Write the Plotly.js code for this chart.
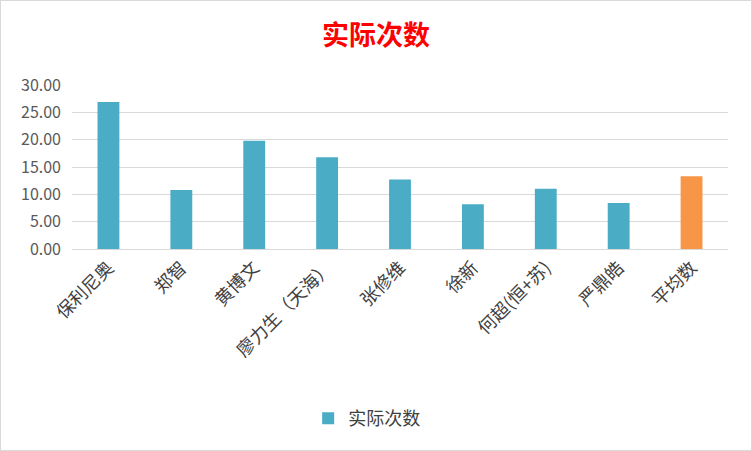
<!DOCTYPE html>
<html>
<head>
<meta charset="utf-8">
<script src="https://cdn.plot.ly/plotly-3.0.1.min.js"></script>
<style>
  html, body { margin: 0; padding: 0; background: #fff; }
  #chart { width: 750px; height: 449px; border: 1px solid #d9d9d9; }
</style>
</head>
<body>
<div id="chart"></div>
<script>
var names = ['保利尼奥', '郑智', '黄博文', '廖力生（天海）', '张修维', '徐新', '何超(恒+苏)', '严鼎皓', '平均数'];
var counts = [26.9, 10.8, 19.8, 16.8, 12.7, 8.2, 11.0, 8.4, 13.3];
var barColors = ['#4BACC6', '#4BACC6', '#4BACC6', '#4BACC6', '#4BACC6', '#4BACC6', '#4BACC6', '#4BACC6', '#F79646'];
var yTicks = [0, 5, 10, 15, 20, 25, 30];

var trace = {
  x: names,
  y: counts,
  type: 'bar',
  name: '实际次数',
  marker: {color: barColors},
  showlegend: true,
  hoverinfo: 'x+y'
};

var font = "'Noto Sans CJK SC', 'Microsoft YaHei', sans-serif";

var layout = {
  width: 750,
  height: 449,
  margin: {l: 71, r: 23, t: 84, b: 201},
  paper_bgcolor: '#fff',
  plot_bgcolor: '#fff',
  font: {family: font, color: '#404040'},
  title: {
    text: '<b>实际次数</b>',
    font: {family: font, size: 27, color: '#FF0000'},
    x: 0.5, xanchor: 'center',
    yref: 'container', y: 0.922, yanchor: 'middle'
  },
  bargap: 0.7,
  xaxis: {
    tickangle: -45,
    tickfont: {size: 18, color: '#404040'},
    showgrid: false,
    showline: true,
    linecolor: '#d9d9d9',
    ticks: ''
  },
  yaxis: {
    range: [0, 30],
    tickvals: yTicks,
    ticktext: yTicks.map(function (v) { return v.toFixed(2); }),
    tickfont: {size: 16, color: '#595959'},
    ticklabelstandoff: 10,
    gridcolor: '#d9d9d9',
    zeroline: false,
    ticks: '',
    ticklen: 0
  },
  legend: {
    orientation: 'h',
    x: 0.36, xanchor: 'left',
    yref: 'container', y: 0.07, yanchor: 'middle',
    font: {size: 18, color: '#404040'}
  }
};

Plotly.newPlot('chart', [trace], layout, {displayModeBar: false});
</script>
</body>
</html>
